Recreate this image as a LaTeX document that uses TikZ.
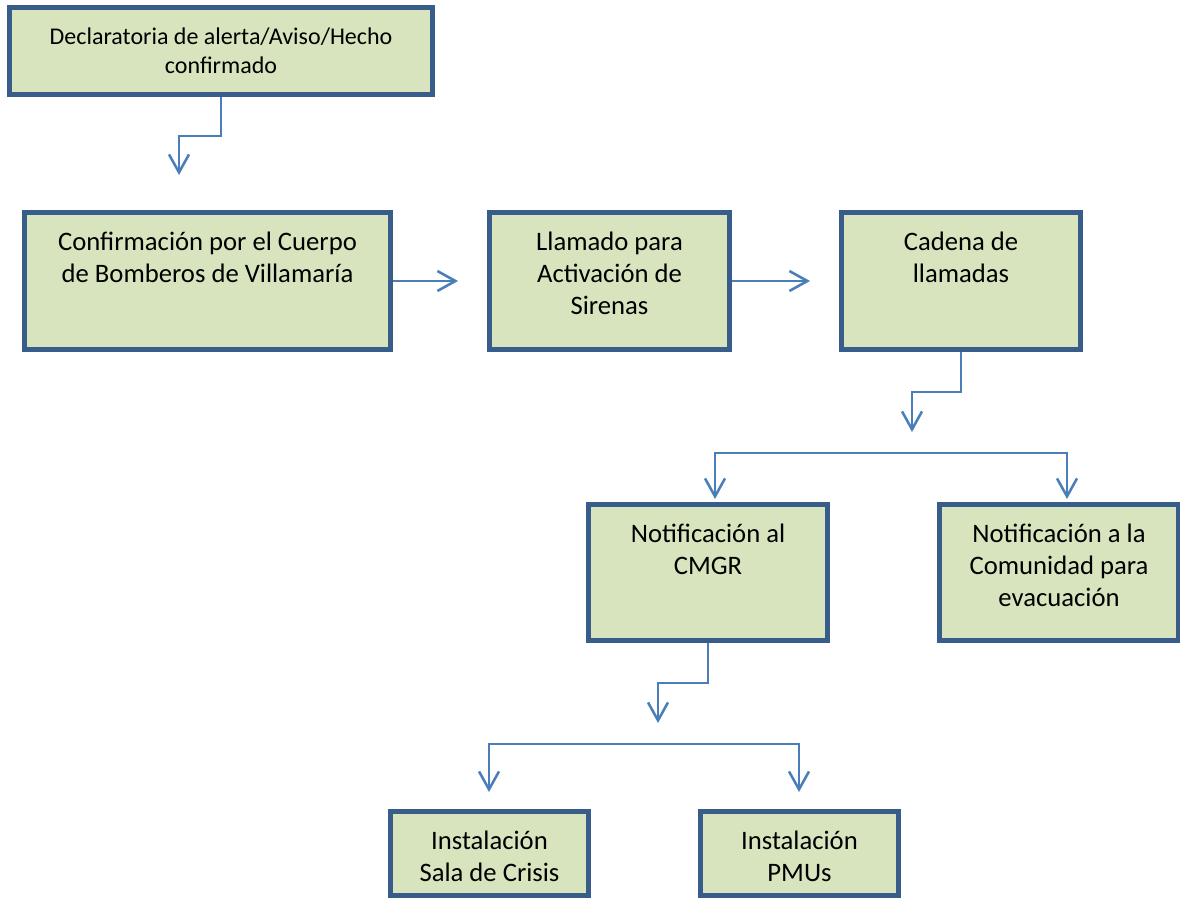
\documentclass[tikz,border=0pt]{standalone}
\usepackage{fontspec}
\setmainfont{Carlito}
\usepackage{tikz}
\usetikzlibrary{arrows.meta,backgrounds}

\definecolor{bordeazul}{HTML}{385D8A}
\definecolor{verdeclaro}{HTML}{D7E4BD}
\definecolor{azulflecha}{HTML}{4A7EBB}

\tikzset{
  caja/.style={draw=bordeazul, fill=verdeclaro, line width=3.6pt, inner sep=0pt},
  texto/.style={align=center, anchor=north, inner sep=0pt, font=\fontsize{20}{24}\selectfont},
  flecha/.style={draw=azulflecha, line width=1.9pt, line join=miter,
    -{Straight Barb[length=13.5pt,width=15pt]}},
  doble/.style={draw=azulflecha, line width=1.9pt, line join=miter,
    {Straight Barb[length=13.5pt,width=15pt]}-{Straight Barb[length=13.5pt,width=15pt]}}
}

\begin{document}
\begin{tikzpicture}[x=0.75pt,y=0.75pt,yscale=-1,xscale=1]
\useasboundingbox (0,0) rectangle (1180,898);

%Shape: Rectangle [decl]
\node[caja, minimum width=317.6pt, minimum height=65.6pt] (decl) at (221,51) {};
%Shape: Rectangle [conf]
\node[caja, minimum width=274.9pt, minimum height=103.1pt] (conf) at (207.5,281) {};
%Shape: Rectangle [sirenas]
\node[caja, minimum width=180.4pt, minimum height=103.1pt] (sirenas) at (609.5,281) {};
%Shape: Rectangle [cadena]
\node[caja, minimum width=179.6pt, minimum height=103.1pt] (cadena) at (961,281) {};
%Shape: Rectangle [cmgr]
\node[caja, minimum width=179.6pt, minimum height=102.4pt] (cmgr) at (708,572.5) {};
%Shape: Rectangle [comunidad]
\node[caja, minimum width=179.6pt, minimum height=102.4pt] (comunidad) at (1059,572.5) {};
%Shape: Rectangle [sala]
\node[caja, minimum width=148.9pt, minimum height=63.4pt] (sala) at (489.5,853.5) {};
%Shape: Rectangle [pmus]
\node[caja, minimum width=148.9pt, minimum height=63.4pt] (pmus) at (799.5,853.5) {};

% Text Node
\node[texto, font=\fontsize{18}{21.75}\selectfont] (tdecl) at ([yshift=14pt]decl.north) {\strut Declaratoria de alerta/Aviso/Hecho\\confirmado};
% Text Node
\node[texto] (tconf) at ([yshift=13.8pt]conf.north) {\strut Confirmación por el Cuerpo\\de Bomberos de Villamaría};
% Text Node
\node[texto] (tsirenas) at ([yshift=13.8pt]sirenas.north) {\strut Llamado para\\Activación de\\Sirenas};
% Text Node
\node[texto] (tcadena) at ([yshift=13.8pt]cadena.north) {\strut Cadena de\\llamadas};
% Text Node
\node[texto] (tcmgr) at ([yshift=13.8pt]cmgr.north) {\strut Notificación al\\CMGR};
% Text Node
\node[texto] (tcomunidad) at ([yshift=13.8pt]comunidad.north) {\strut Notificación a la\\Comunidad para\\evacuación};
% Text Node
\node[texto] (tsala) at ([yshift=13.8pt]sala.north) {\strut Instalación\\Sala de Crisis};
% Text Node
\node[texto] (tpmus) at ([yshift=13.8pt]pmus.north) {\strut Instalación\\PMUs};

% arrow ends
\coordinate (p1) at (179,175);
\coordinate (p2) at (458,281);
\coordinate (p3) at (810,281);
\coordinate (p4) at (912,432);
\coordinate (p5a) at (715,499);
\coordinate (r1) at (891,453);
\coordinate (p5b) at (1067,499);
\coordinate (p6) at (658,723);
\coordinate (p7a) at (489,792);
\coordinate (r2) at (644,744);
\coordinate (p7b) at (799,792);

%Connectors
\draw[flecha] (decl.south) -- ++(0,39) -| (p1);
\draw[flecha] (conf.east) -- (p2);
\draw[flecha] (sirenas.east) -- (p3);
\draw[flecha] (cadena.south) -- ++(0,40) -| (p4);
\draw[doble] (p5a) |- (r1) -| (p5b);
\draw[flecha] (cmgr.south) -- ++(0,40) -| (p6);
\draw[doble] (p7a) |- (r2) -| (p7b);

\end{tikzpicture}
\end{document}
